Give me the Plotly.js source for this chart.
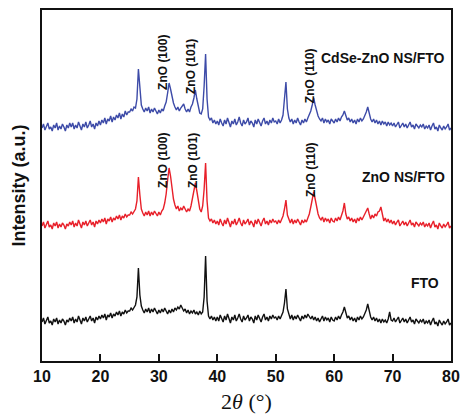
<!DOCTYPE html>
<html>
<head>
<meta charset="utf-8">
<script src="https://cdn.plot.ly/plotly-3.0.1.min.js"></script>
<style>html,body{margin:0;padding:0;background:#fff;}#chart{width:461px;height:416px;}</style>
</head>
<body>
<div id="chart"></div>
<script>
// 2θ sampling (degrees)
const twoTheta = [
10,10.25,10.5,10.75,11,11.25,11.5,11.75,12,12.25,12.5,12.75,13,13.25,13.5,13.75,14,14.25,14.5,14.75,
15,15.25,15.5,15.75,16,16.25,16.5,16.75,17,17.25,17.5,17.75,18,18.25,18.5,18.75,19,19.25,19.5,19.75,
20,20.25,20.5,20.75,21,21.25,21.5,21.75,22,22.25,22.5,22.75,23,23.25,23.5,23.75,24,24.25,24.5,24.75,
25,25.25,25.5,25.75,26,26.25,26.5,26.75,27,27.25,27.5,27.75,28,28.25,28.5,28.75,29,29.25,29.5,29.75,
30,30.25,30.5,30.75,31,31.25,31.5,31.75,32,32.25,32.5,32.75,33,33.25,33.5,33.75,34,34.25,34.5,34.75,
35,35.25,35.5,35.75,36,36.25,36.5,36.75,37,37.25,37.5,37.75,38,38.25,38.5,38.75,39,39.25,39.5,39.75,
40,40.25,40.5,40.75,41,41.25,41.5,41.75,42,42.25,42.5,42.75,43,43.25,43.5,43.75,44,44.25,44.5,44.75,
45,45.25,45.5,45.75,46,46.25,46.5,46.75,47,47.25,47.5,47.75,48,48.25,48.5,48.75,49,49.25,49.5,49.75,
50,50.25,50.5,50.75,51,51.25,51.5,51.75,52,52.25,52.5,52.75,53,53.25,53.5,53.75,54,54.25,54.5,54.75,
55,55.25,55.5,55.75,56,56.25,56.5,56.75,57,57.25,57.5,57.75,58,58.25,58.5,58.75,59,59.25,59.5,59.75,
60,60.25,60.5,60.75,61,61.25,61.5,61.75,62,62.25,62.5,62.75,63,63.25,63.5,63.75,64,64.25,64.5,64.75,
65,65.25,65.5,65.75,66,66.25,66.5,66.75,67,67.25,67.5,67.75,68,68.25,68.5,68.75,69,69.25,69.5,69.75,
70,70.25,70.5,70.75,71,71.25,71.5,71.75,72,72.25,72.5,72.75,73,73.25,73.5,73.75,74,74.25,74.5,74.75,
75,75.25,75.5,75.75,76,76.25,76.5,76.75,77,77.25,77.5,77.75,78,78.25,78.5,78.75,79,79.25,79.5,79.75,
80];

// CdSe-ZnO NS/FTO (offset intensity, a.u.)
const cdseZnO = [
233,237,231,235,238,232,234,230,236,233,238,231,235,232,237,234,230,236,233,238,
234,238,232,236,233,239,235,231,237,234,239,233,236,240,234,237,232,238,235,240,
236,241,238,243,237,242,240,245,239,244,241,246,243,248,242,247,244,250,246,249,
249,252,250,254,253,262,292,270,256,252,249,253,250,254,248,252,249,253,250,247,
251,248,252,250,255,259,268,278,272,263,258,254,251,254,250,253,255,257,252,249,
252,249,254,257,263,271,262,255,248,247,252,275,307,262,244,241,243,238,241,237,
240,236,242,238,235,241,237,243,239,234,240,237,242,236,239,244,238,235,241,237,
239,243,236,240,238,234,241,237,242,239,235,240,243,237,240,236,241,238,243,239,
240,237,242,238,241,246,262,279,252,243,239,242,237,241,238,243,239,236,241,238,
242,239,243,246,250,256,263,256,249,245,242,240,243,238,242,239,241,237,242,240,
238,242,239,243,240,244,246,250,245,241,243,239,242,238,241,237,242,239,243,240,
242,245,249,254,247,242,239,242,238,241,237,240,236,240,237,239,235,239,236,238,
235,238,234,237,239,233,236,238,234,237,233,236,239,234,236,232,237,235,233,236,
234,237,232,235,233,236,231,235,238,232,234,230,236,233,231,235,232,234,237,231,
233];

// ZnO NS/FTO
const znoNS = [
135,139,133,137,140,134,136,132,138,135,139,133,137,134,138,136,132,137,135,139,
136,140,134,138,135,141,137,133,139,136,140,135,138,141,136,139,134,140,137,141,
138,142,139,143,137,142,140,144,139,143,141,145,142,146,141,145,143,147,144,146,
146,149,147,150,152,160,184,166,152,148,145,149,146,150,145,149,146,150,147,145,
149,146,150,152,158,167,181,193,185,172,162,156,152,155,150,153,151,155,152,149,
152,150,155,162,171,178,170,160,152,149,155,172,198,160,143,140,142,138,141,137,
140,136,142,138,135,141,137,143,139,134,140,137,142,136,139,143,138,135,141,137,
139,142,136,140,138,134,141,137,142,139,135,140,143,137,140,136,141,138,142,139,
140,137,141,138,141,145,152,161,146,141,138,142,137,141,138,142,139,136,141,138,
141,139,143,147,154,163,169,162,153,147,143,141,144,139,143,140,142,138,143,140,
139,143,140,144,141,145,150,158,147,142,144,140,143,139,142,138,143,140,144,141,
144,148,150,153,147,142,146,143,147,145,149,150,154,146,140,143,139,142,138,141,
137,140,136,139,141,135,138,140,136,139,135,138,141,136,138,134,139,137,135,138,
136,139,134,137,135,138,133,137,140,134,136,132,138,135,133,137,134,136,139,133,
135];

// FTO
const fto = [
39,43,37,41,44,38,40,36,42,39,43,37,41,38,42,40,36,41,39,43,
40,44,38,42,39,45,41,37,43,40,44,39,42,45,40,43,38,44,41,45,
42,46,43,47,41,46,44,48,43,47,45,49,46,50,45,49,47,51,48,50,
50,53,51,54,56,64,93,66,55,51,48,52,49,53,48,52,49,53,50,47,
51,48,52,49,53,50,47,51,48,52,49,53,51,54,52,56,53,50,52,48,
51,47,50,48,51,47,49,46,50,47,49,64,105,60,45,42,45,41,44,40,
44,40,46,42,39,45,41,47,43,38,44,41,46,40,43,47,42,39,45,41,
43,46,40,44,42,38,45,41,46,43,39,44,47,41,44,40,45,42,46,43,
44,41,45,42,45,49,58,72,52,46,42,46,41,45,42,46,43,40,45,42,
46,43,47,44,42,45,41,44,40,43,39,42,45,40,44,41,43,39,44,41,
40,44,41,45,42,46,49,54,47,43,45,41,44,40,43,39,44,41,45,42,
44,47,51,57,49,44,41,44,40,43,39,42,38,42,39,41,38,42,49,41,
40,43,39,42,44,38,41,43,39,42,38,41,44,39,41,37,42,40,38,41,
39,42,37,40,38,41,36,40,43,37,39,35,41,38,36,40,37,39,42,36,
38];

const xTicks = [10,20,30,40,50,60,70,80];

const traces = [
  {x: twoTheta, y: fto, mode: 'lines', line: {color: '#111111', width: 1.4}, name: 'FTO'},
  {x: twoTheta, y: znoNS, mode: 'lines', line: {color: '#E8202A', width: 1.4}, name: 'ZnO NS/FTO'},
  {x: twoTheta, y: cdseZnO, mode: 'lines', line: {color: '#3D4BA8', width: 1.4}, name: 'CdSe-ZnO NS/FTO'}
];

const lblFont = {family: 'Liberation Sans, Arial, sans-serif', size: 14, color: '#111'};
const hklFont = {family: 'Liberation Sans, Arial, sans-serif', size: 12, color: '#111'};

function hkl(text, x, y) {
  return {text: '<b>' + text + '</b>', x: x, y: y, xref: 'x', yref: 'y', showarrow: false,
    textangle: -90, font: hklFont, xanchor: 'center', yanchor: 'middle'};
}

const layout = {
  width: 461, height: 416,
  margin: {l: 42, r: 10, t: 10, b: 55},
  paper_bgcolor: '#fff', plot_bgcolor: '#fff',
  showlegend: false,
  xaxis: {
    range: [10, 80], tickvals: xTicks, ticktext: xTicks.map(String),
    ticks: 'inside', ticklen: 7, tickwidth: 2, tickcolor: '#111',
    showline: true, linewidth: 2, linecolor: '#111', mirror: true,
    showgrid: false, zeroline: false,
    tickfont: {family: 'Liberation Sans, Arial, sans-serif', size: 16, color: '#111', weight: 'bold'},
    title: {text: '2<i>θ</i> (°)', font: {family: 'Liberation Serif, Times New Roman, serif', size: 22, color: '#111'}, standoff: 9}
  },
  yaxis: {
    range: [0, 351], showticklabels: false, ticks: '',
    showline: true, linewidth: 2, linecolor: '#111', mirror: true,
    showgrid: false, zeroline: false,
    title: {text: '<b>Intensity (a.u.)</b>', font: {family: 'Liberation Sans, Arial, sans-serif', size: 18, color: '#111'}, standoff: 10}
  },
  annotations: [
    {text: '<b>CdSe-ZnO NS/FTO</b>', x: 79.3, y: 303, xref: 'x', yref: 'y', xanchor: 'right', yanchor: 'middle', showarrow: false, font: lblFont},
    {text: '<b>ZnO NS/FTO</b>', x: 79.3, y: 184, xref: 'x', yref: 'y', xanchor: 'right', yanchor: 'middle', showarrow: false, font: lblFont},
    {text: '<b>FTO</b>', x: 78.3, y: 78, xref: 'x', yref: 'y', xanchor: 'right', yanchor: 'middle', showarrow: false, font: lblFont},
    hkl('ZnO (100)', 30.7, 299),
    hkl('ZnO (101)', 35.5, 295),
    hkl('ZnO (110)', 55.9, 285),
    hkl('ZnO (100)', 30.7, 201),
    hkl('ZnO (101)', 35.85, 200),
    hkl('ZnO (110)', 56.05, 191)
  ]
};

Plotly.newPlot('chart', traces, layout, {displayModeBar: false, staticPlot: true});
</script>
</body>
</html>
